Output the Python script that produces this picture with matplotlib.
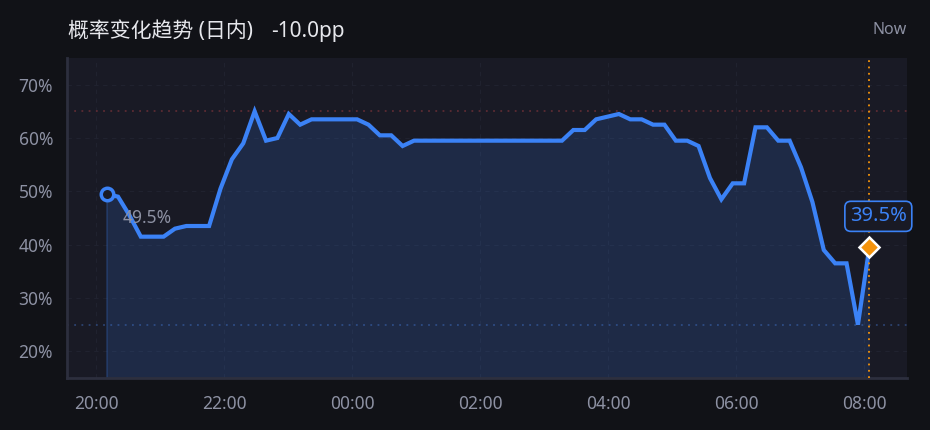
import numpy as np
import matplotlib
matplotlib.use("Agg")
import matplotlib.pyplot as plt

plt.rcParams['font.family'] = ['Noto Sans', 'Noto Sans CJK SC', 'DejaVu Sans']

# probabilité (%), de 20:10 à 08:05
probs = [49.5, 49, 45.5, 41.5, 41.5, 41.5, 43, 43.5, 43.5, 43.5,
         50.5, 56, 59, 65, 59.5, 60, 64.5, 62.5, 63.5, 63.5,
         63.5, 63.5, 63.5, 62.5, 60.5, 60.5, 58.5, 59.5, 59.5, 59.5,
         59.5, 59.5, 59.5, 59.5, 59.5, 59.5, 59.5, 59.5, 59.5, 59.5,
         59.5, 61.5, 61.5, 63.5, 64, 64.5, 63.5, 63.5, 62.5, 62.5,
         59.5, 59.5, 58.5, 52.5, 48.5, 51.5, 51.5, 62, 62, 59.5,
         59.5, 54.5, 48, 39, 36.5, 36.5, 25, 39.5]
t_start = 20 + 10 / 60   # heures depuis minuit la veille
t_end = 32 + 5 / 60
hours = np.linspace(t_start, t_end, len(probs))

tick_hours = [20, 22, 24, 26, 28, 30, 32]
tick_labels = ["20:00", "22:00", "00:00", "02:00", "04:00", "06:00", "08:00"]
y_ticks = [20, 30, 40, 50, 60, 70]
upper_ref = 65
lower_ref = 25

BG = "#111217"
AX_BG = "#191a25"
BLUE = "#3b82f6"
ORANGE = "#f5930b"
GRID = "#20222f"
TXT = "#8d91a3"

fig = plt.figure(figsize=(9.3, 4.3), dpi=100, facecolor=BG)
ax = fig.add_axes([67/930, 1-378/430, 840/930, 320/430])
ax.set_facecolor(AX_BG)

ax.set_xlim(19.547, 32.672)
ax.set_ylim(15, 75)

ax.grid(True, color=GRID, linestyle=(0, (4, 4)), linewidth=0.8)
ax.set_axisbelow(True)

ax.axhline(upper_ref, color="#5c2b33", linestyle=(0, (1, 3)), linewidth=1.3, zorder=1)
ax.axhline(lower_ref, color="#2c4270", linestyle=(0, (1, 3)), linewidth=1.3, zorder=1)

ax.fill_between(hours, probs, 15, color=BLUE, alpha=0.16, linewidth=0, zorder=2)
ax.plot([hours[0], hours[0]], [15, probs[0]], color=BLUE, alpha=0.25, linewidth=1.2, zorder=2)
ax.plot(hours, probs, color=BLUE, linewidth=3, solid_joinstyle="miter", zorder=3)

ax.axvline(hours[-1], color=ORANGE, linestyle=(0, (1, 2.5)), linewidth=1.3, zorder=4)

ax.plot(hours[0], probs[0], "o", markersize=9, markerfacecolor=AX_BG,
        markeredgecolor=BLUE, markeredgewidth=2.5, zorder=5)
ax.plot(hours[-1], probs[-1], "D", markersize=10, markerfacecolor=ORANGE,
        markeredgecolor="white", markeredgewidth=1.8, zorder=6)

ax.annotate(f"{probs[0]:.1f}%", (hours[0], probs[0]), xytext=(41, -24),
            textcoords="offset pixels", ha="center", va="center",
            fontsize=12.5, color=TXT, zorder=6)
ax.annotate(f"{probs[-1]:.1f}%", (hours[-1], probs[-1]), xytext=(9, 31),
            textcoords="offset pixels", ha="center", va="center",
            fontsize=14.5, color=BLUE, zorder=7, annotation_clip=False,
            bbox=dict(boxstyle="round,pad=0.25,rounding_size=0.3",
                      facecolor=AX_BG, edgecolor=BLUE, linewidth=1.2))

ax.set_xticks(tick_hours)
ax.set_xticklabels(tick_labels)
ax.set_yticks(y_ticks)
ax.set_yticklabels([f"{v}%" for v in y_ticks])
ax.tick_params(length=0, colors=TXT, labelsize=12.5)
ax.tick_params(axis="x", pad=12)
ax.tick_params(axis="y", pad=10)

for side in ["top", "right"]:
    ax.spines[side].set_visible(False)
for side in ["left", "bottom"]:
    ax.spines[side].set_color("#2d2f3e")
    ax.spines[side].set_linewidth(2)

change = probs[-1] - probs[0]
fig.text(68/930, 1-32/430, "概率变化趋势 (日内)", color="#e6e7ec",
         fontsize=15, va="center", ha="left")
fig.text(271/930, 1-32/430, f"{change:.1f}pp", color="#e6e7ec",
         fontsize=15, va="center", ha="left")
fig.text(907/930, 1-30/430, "Now", color=TXT, fontsize=11.5, va="center", ha="right")

fig.savefig("out.png", dpi=100, facecolor=BG)
